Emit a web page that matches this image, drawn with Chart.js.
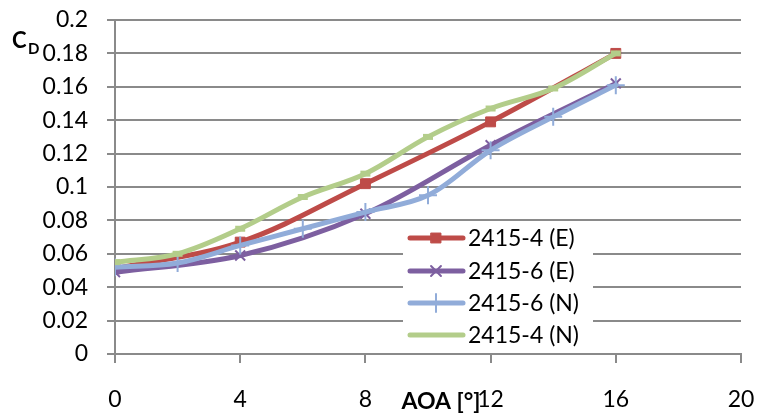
<!DOCTYPE html>
<html>
<head>
<meta charset="utf-8">
<script src="https://cdn.jsdelivr.net/npm/chart.js@4/dist/chart.umd.min.js"></script>
<style>
  html, body { margin: 0; padding: 0; background: #fff; }
  #wrap { width: 760px; height: 414px; }
</style>
</head>
<body>
<div id="wrap"><canvas id="cd-chart" width="760" height="414"></canvas></div>
<script>
// AOA values in degrees, drag coefficient
const aoaExp = [0, 4, 8, 12, 16];
const aoaNum = [0, 2, 4, 6, 8, 10, 12, 14, 16];
const cd4E = [0.051, 0.067, 0.102, 0.139, 0.180];
const cd6E = [0.049, 0.059, 0.084, 0.125, 0.162];
const cd6N = [0.052, 0.0545, 0.065, 0.075, 0.085, 0.095, 0.122, 0.142, 0.161];
const cd4N = [0.055, 0.060, 0.075, 0.094, 0.108, 0.130, 0.147, 0.159, 0.180];
const seriesNames = ['2415-4 (E)', '2415-6 (E)', '2415-6 (N)', '2415-4 (N)'];
const xTicks = [0, 4, 8, 12, 16, 20];

const gridGray = '#8a8a8a';
const FONT = 'Lato, "Open Sans", sans-serif';

const pts = (xs, ys) => xs.map((x, i) => ({ x: x, y: ys[i] }));

// legend drawn over the plot, like the Excel one
const boxLegend = {
  id: 'boxLegend',
  afterDatasetsDraw(chart) {
    const ctx = chart.ctx;
    ctx.save();
    ctx.fillStyle = '#fff';
    ctx.fillRect(403, 222, 190, 130);
    const rows = [238, 271, 303, 335];
    chart.data.datasets.forEach((ds, i) => {
      const y = rows[i];
      ctx.strokeStyle = ds.borderColor;
      ctx.lineWidth = 5;
      ctx.lineCap = 'round';
      ctx.beginPath();
      ctx.moveTo(410, y);
      ctx.lineTo(463, y);
      ctx.stroke();
      if (ds.pointStyle !== 'line') {
        ctx.fillStyle = ds.borderColor;
        ctx.strokeStyle = ds.borderColor;
        ctx.lineWidth = ds.pointBorderWidth;
        Chart.helpers.drawPoint(ctx, {
          pointStyle: ds.pointStyle,
          radius: ds.pointRadius,
          borderWidth: ds.pointBorderWidth
        }, 436, y);
      }
      ctx.fillStyle = '#000';
      ctx.font = '23px ' + FONT;
      ctx.textBaseline = 'middle';
      ctx.textAlign = 'left';
      ctx.fillText(seriesNames[i], 468, y + 1);
    });
    ctx.restore();
  }
};

// axis titles: C_D at the top left and AOA [°] under the x axis
const axisTitles = {
  id: 'axisTitles',
  afterDraw(chart) {
    const ctx = chart.ctx;
    ctx.save();
    ctx.fillStyle = '#000';
    ctx.textBaseline = 'alphabetic';
    ctx.textAlign = 'left';
    ctx.font = 'bold 22px ' + FONT;
    ctx.fillText('C', 12, 48);
    ctx.font = 'bold 15px ' + FONT;
    ctx.fillText('D', 28, 54);
    ctx.font = 'bold 23px ' + FONT;
    ctx.textAlign = 'center';
    ctx.textBaseline = 'middle';
    ctx.fillText('AOA [°]', 441, 402);
    ctx.restore();
  }
};

const ctx = document.getElementById('cd-chart').getContext('2d');
new Chart(ctx, {
  type: 'line',
  data: {
    datasets: [
      {
        label: seriesNames[0], data: pts(aoaExp, cd4E), order: 4,
        borderColor: '#BE4B48', backgroundColor: '#BE4B48',
        pointStyle: 'rect', pointRadius: 7, pointBorderWidth: 1
      },
      {
        label: seriesNames[1], data: pts(aoaExp, cd6E), order: 3,
        borderColor: '#7D5FA0', backgroundColor: '#7D5FA0',
        pointStyle: 'crossRot', pointRadius: 7, pointBorderWidth: 2
      },
      {
        label: seriesNames[2], data: pts(aoaNum, cd6N), order: 2,
        borderColor: '#91ACD9', backgroundColor: '#91ACD9',
        pointStyle: 'cross', pointRadius: 9, pointBorderWidth: 2
      },
      {
        label: seriesNames[3], data: pts(aoaNum, cd4N), order: 1,
        borderColor: '#B3CD8A', backgroundColor: '#B3CD8A',
        pointStyle: 'line', pointRadius: 5, pointBorderWidth: 6
      }
    ]
  },
  options: {
    responsive: false,
    animation: false,
    devicePixelRatio: 1,
    layout: { padding: { left: 0, top: 20, right: 19, bottom: 0 } },
    elements: {
      line: { borderWidth: 5, tension: 0.35, borderCapStyle: 'round', fill: false }
    },
    plugins: {
      legend: { display: false },
      tooltip: { enabled: false }
    },
    scales: {
      x: {
        type: 'linear',
        min: 0,
        max: 20,
        afterBuildTicks: (scale) => { scale.ticks = xTicks.map(v => ({ value: v })); },
        afterFit: (scale) => {
          scale.height = 60;
          scale.paddingLeft = 0;
          scale.paddingRight = 0;
        },
        grid: { drawOnChartArea: false, drawTicks: true, tickLength: 9, color: gridGray, lineWidth: 2 },
        border: { color: gridGray, width: 2 },
        ticks: { color: '#000', font: { family: FONT, size: 23 }, padding: 23, maxRotation: 0 }
      },
      y: {
        min: 0,
        max: 0.2,
        afterFit: (scale) => {
          scale.width = 115;
          scale.paddingTop = 0;
          scale.paddingBottom = 0;
        },
        grid: { color: gridGray, lineWidth: 2, tickLength: 8 },
        border: { color: gridGray, width: 2 },
        ticks: {
          stepSize: 0.02,
          color: '#000',
          font: { family: FONT, size: 23 },
          padding: 19,
          callback: (v) => String(parseFloat(v.toFixed(2)))
        }
      }
    }
  },
  plugins: [boxLegend, axisTitles]
});
</script>
</body>
</html>
